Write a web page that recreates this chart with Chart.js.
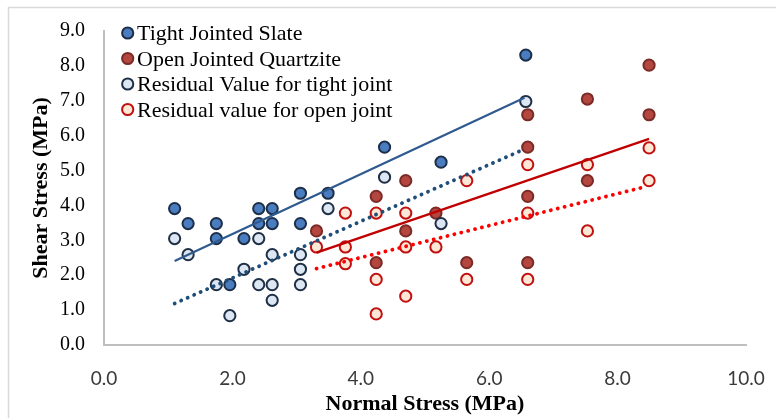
<!DOCTYPE html>
<html>
<head>
<meta charset="utf-8">
<script src="https://cdn.jsdelivr.net/npm/chart.js@4/dist/chart.umd.min.js"></script>
<style>
  body { margin: 0; background: #fff; }
  #wrap { width: 776px; height: 418px; }
</style>
</head>
<body>
<div id="wrap"><canvas id="chart" width="776" height="418"></canvas></div>
<script>
// series values (MPa)
const slateX = [1.10, 1.31, 1.75, 1.75, 1.96, 2.18, 2.41, 2.62, 2.41, 2.62, 3.06, 3.06, 3.49, 4.37, 5.25, 6.57];
const slateY = [3.91, 3.48, 3.48, 3.05, 1.73, 3.05, 3.91, 3.91, 3.48, 3.48, 4.35, 3.48, 4.35, 5.67, 5.24, 8.31];

const quartzX = [3.31, 4.24, 4.24, 4.70, 4.70, 5.17, 5.65, 6.60, 6.60, 6.60, 6.60, 7.53, 7.53, 8.49, 8.49];
const quartzY = [3.27, 4.26, 2.36, 4.71, 3.27, 3.78, 2.36, 6.60, 5.67, 4.26, 2.36, 7.05, 4.71, 8.02, 6.60];

const resTightX = [1.10, 1.31, 1.75, 1.96, 2.18, 2.41, 2.41, 2.62, 2.62, 2.62, 3.06, 3.06, 3.06, 3.49, 4.37, 5.25, 6.57];
const resTightY = [3.05, 2.59, 1.73, 0.84, 2.17, 3.05, 1.73, 2.59, 1.73, 1.28, 2.59, 2.17, 1.73, 3.91, 4.81, 3.48, 6.98];

const resOpenX = [3.31, 3.76, 3.76, 3.76, 4.24, 4.24, 4.24, 4.70, 4.70, 4.70, 5.17, 5.65, 5.65, 6.60, 6.60, 6.60, 7.53, 7.53, 8.49, 8.49];
const resOpenY = [2.81, 3.78, 2.81, 2.33, 3.78, 1.88, 0.89, 3.78, 2.81, 1.40, 2.81, 4.71, 1.88, 5.17, 3.78, 1.88, 5.17, 3.27, 5.65, 4.71];

// trendline end points
const slateFitX = [1.10, 6.55];
const slateFitY = [2.41, 7.09];
const resTightFitX = [1.10, 6.53];
const resTightFitY = [1.19, 5.60];
const quartzFitX = [3.31, 8.49];
const quartzFitY = [2.65, 5.91];
const resOpenFitX = [3.31, 8.42];
const resOpenFitY = [2.19, 4.53];

const seriesNames = [
  "Tight Jointed Slate",
  "Open Jointed Quartzite",
  "Residual Value for tight joint",
  "Residual value for open joint",
];
const xTitle = "Normal Stress (MPa)";
const yTitle = "Shear Stress (MPa)";

function toPoints(xs, ys) {
  return xs.map((x, i) => ({ x: x, y: ys[i] }));
}

function pointSet(name, xs, ys, fill, border, order) {
  return {
    label: name,
    data: toPoints(xs, ys),
    showLine: false,
    pointRadius: 5.6,
    pointBorderWidth: 2,
    pointBackgroundColor: fill,
    pointBorderColor: border,
    order: order,
    isLegend: true,
  };
}

function lineSet(xs, ys, color, width, dotted) {
  return {
    label: "fit",
    data: toPoints(xs, ys),
    showLine: true,
    pointRadius: 0,
    borderColor: color,
    borderWidth: width,
    borderDash: dotted ? [0.1, 7] : [],
    borderCapStyle: dotted ? "round" : "butt",
    order: 0,
  };
}

// chart frame like the spreadsheet chart area
const framePlugin = {
  id: "frame",
  beforeDraw(chart) {
    const ctx = chart.ctx;
    ctx.save();
    ctx.fillStyle = "#fff";
    ctx.fillRect(0, 0, chart.width, chart.height);
    ctx.strokeStyle = "#d9d9d9";
    ctx.lineWidth = 1.5;
    ctx.strokeRect(8.5, 7.5, 900, 600);
    ctx.restore();
  },
};

// legend drawn inside the plot, top left
const legendPlugin = {
  id: "insideLegend",
  afterDraw(chart) {
    const ctx = chart.ctx;
    ctx.save();
    let row = 0;
    chart.data.datasets.forEach((ds) => {
      if (!ds.isLegend) return;
      const cy = 33 + row * 25.5;
      ctx.beginPath();
      ctx.arc(127.7, cy, 5.6, 0, Math.PI * 2);
      ctx.fillStyle = ds.pointBackgroundColor;
      ctx.fill();
      ctx.lineWidth = 2;
      ctx.strokeStyle = ds.pointBorderColor;
      ctx.stroke();
      ctx.fillStyle = "#000";
      ctx.font = '22px "Liberation Serif", "Times New Roman", serif';
      ctx.textBaseline = "alphabetic";
      ctx.fillText(ds.label, 137, cy + 7.3);
      row++;
    });
    ctx.restore();
  },
};

new Chart(document.getElementById("chart"), {
  type: "scatter",
  data: {
    datasets: [
      lineSet(slateFitX, slateFitY, "#2e5a8f", 2.2, false),
      lineSet(resTightFitX, resTightFitY, "#1f4e79", 3.8, true),
      lineSet(quartzFitX, quartzFitY, "#c00000", 2.4, false),
      lineSet(resOpenFitX, resOpenFitY, "#ff0000", 3.8, true),
      pointSet(seriesNames[0], slateX, slateY, "#4a7cc0", "#1d2f48", 4),
      pointSet(seriesNames[1], quartzX, quartzY, "#b3463f", "#7a2b27", 3),
      pointSet(seriesNames[2], resTightX, resTightY, "#dde7f3", "#1f2f45", 2),
      pointSet(seriesNames[3], resOpenX, resOpenY, "#fde8d8", "#c01010", 1),
    ],
  },
  options: {
    responsive: false,
    animation: false,
    layout: { padding: { left: 0, right: 30, top: 30, bottom: 0 } },
    plugins: {
      legend: { display: false },
      tooltip: { enabled: false },
    },
    scales: {
      x: {
        type: "linear",
        min: 0,
        max: 10,
        grid: { display: false, drawTicks: false },
        border: { display: true, color: "#bfbfbf", width: 2 },
        ticks: {
          stepSize: 2,
          padding: 22,
          color: "#3a3a3a",
          font: { family: "Lato, 'Liberation Sans', sans-serif", size: 19 },
          callback: (v) => v.toFixed(1),
        },
        title: {
          display: true,
          text: xTitle,
          color: "#000",
          padding: { top: 0, bottom: 0 },
          font: { family: "'Liberation Serif', 'Times New Roman', serif", size: 22, weight: "bold" },
        },
        afterFit(scale) {
          scale.height = 73;
          scale.paddingLeft = 0;
          scale.paddingRight = 0;
        },
      },
      y: {
        type: "linear",
        min: 0,
        max: 9,
        grid: { display: false, drawTicks: false },
        border: { display: true, color: "#bfbfbf", width: 2 },
        ticks: {
          stepSize: 1,
          padding: 19,
          color: "#000",
          font: { family: "'Liberation Serif', 'Times New Roman', serif", size: 20 },
          callback: (v) => v.toFixed(1),
        },
        title: {
          display: true,
          text: yTitle,
          color: "#000",
          padding: { top: 28, bottom: 0 },
          font: { family: "'Liberation Serif', 'Times New Roman', serif", size: 22, weight: "bold" },
        },
        afterFit(scale) {
          scale.width = 104;
        },
      },
    },
  },
  plugins: [framePlugin, legendPlugin],
});
</script>
</body>
</html>
